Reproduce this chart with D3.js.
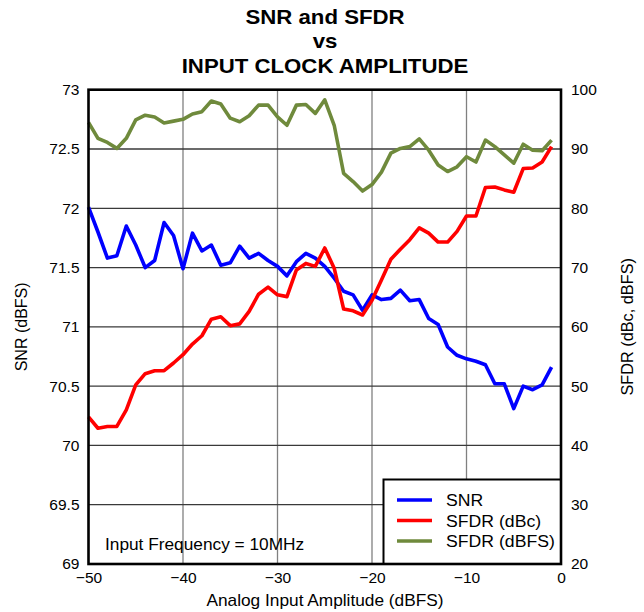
<!DOCTYPE html>
<html>
<head>
<meta charset="utf-8">
<script src="https://cdn.jsdelivr.net/npm/d3@7"></script>
<style>
  html, body { margin: 0; padding: 0; background: #fff; }
  svg { display: block; font-family: "Liberation Sans", Arial, sans-serif; }
</style>
</head>
<body>
<svg id="chart" width="644" height="612"></svg>
<script>
// Input clock amplitude sweep, dBFS
const amplitude = d3.range(-50, 0); // -50 .. -1 in 1 dB steps

// SNR (dBFS), left axis
const snr = [
  72.01, 71.80, 71.58, 71.60, 71.85, 71.69, 71.50, 71.56, 71.88, 71.77,
  71.49, 71.79, 71.64, 71.69, 71.52, 71.54, 71.68, 71.58, 71.62, 71.56,
  71.51, 71.43, 71.55, 71.62, 71.58, 71.51, 71.41, 71.30, 71.27, 71.14,
  71.27, 71.23, 71.24, 71.31, 71.22, 71.23, 71.07, 71.02, 70.83, 70.76,
  70.73, 70.71, 70.68, 70.52, 70.52, 70.31, 70.50, 70.47, 70.51, 70.66
];

// SFDR (dBc), right axis
const sfdrDbc = [
  44.8, 42.9, 43.2, 43.2, 46.0, 50.2, 52.1, 52.6, 52.6, 53.9,
  55.3, 57.1, 58.5, 61.3, 61.7, 60.2, 60.5, 62.6, 65.5, 66.7,
  65.4, 65.1, 69.6, 70.7, 70.2, 73.3, 69.9, 63.0, 62.7, 62.0,
  64.5, 67.9, 71.4, 73.1, 74.7, 76.7, 75.8, 74.3, 74.3, 76.1,
  78.7, 78.7, 83.5, 83.6, 83.1, 82.7, 86.7, 86.8, 87.8, 90.4
];

// SFDR (dBFS), right axis
const sfdrDbfs = [
  94.5, 91.8, 91.1, 90.1, 91.8, 94.9, 95.7, 95.4, 94.4, 94.7,
  95.0, 95.9, 96.3, 98.1, 97.6, 95.2, 94.6, 95.6, 97.4, 97.4,
  95.4, 94.0, 97.4, 97.5, 96.0, 98.3, 94.0, 85.9, 84.5, 82.9,
  84.0, 86.1, 89.3, 90.1, 90.4, 91.7, 89.8, 87.3, 86.2, 87.0,
  88.7, 87.8, 91.5, 90.4, 89.0, 87.6, 90.8, 89.8, 89.7, 91.5
];

const xTicks = [-50, -40, -30, -20, -10, 0];
const snrTicks = [69, 69.5, 70, 70.5, 71, 71.5, 72, 72.5, 73];
const sfdrTicks = [20, 30, 40, 50, 60, 70, 80, 90, 100];

const titleLines = ["SNR and SFDR", "vs", "INPUT CLOCK AMPLITUDE"];
const seriesNames = ["SNR", "SFDR (dBc)", "SFDR (dBFS)"];
const seriesColors = ["#0000ff", "#ff0000", "#6f8a3c"];

const svg = d3.select("#chart");
const L = 88.5, R = 561, T = 89.7, B = 564;

const x = d3.scaleLinear().domain([-50, 0]).range([L, R]);
const yL = d3.scaleLinear().domain([69, 73]).range([B, T]);
const yR = d3.scaleLinear().domain([20, 100]).range([B, T]);

// Horizontal text with a slightly wide set, as in the original artwork
function wideText(parent, px, py, str, size, sx, anchor, weight) {
  return parent.append("g").attr("transform", `translate(${px},${py}) scale(${sx},1)`)
    .append("text").attr("text-anchor", anchor || "start")
    .attr("font-size", size).attr("font-weight", weight || "normal")
    .text(str);
}

// Title
const tg = svg.append("g");
titleLines.forEach((line, i) => wideText(tg, 325, 23.5 + i * 24.5, line, 19.5, 1.14, "middle", "bold"));

// Gridlines
svg.append("g").selectAll("line").data(xTicks.slice(1, -1)).join("line")
  .attr("x1", d => x(d)).attr("x2", d => x(d))
  .attr("y1", T).attr("y2", B)
  .attr("stroke", "#808080").attr("stroke-width", 1.3);
svg.append("g").selectAll("line").data(snrTicks.slice(1, -1)).join("line")
  .attr("x1", L).attr("x2", R)
  .attr("y1", d => yL(d)).attr("y2", d => yL(d))
  .attr("stroke", "#3a3a3a").attr("stroke-width", 1.3);

// Axes (labels only; the frame is drawn separately)
const axB = d3.axisBottom(x).tickValues(xTicks).tickSize(0).tickPadding(8)
  .tickFormat(d => d3.format("")(d).replace("-", "\u2212"));
const axL = d3.axisLeft(yL).tickValues(snrTicks).tickSize(0).tickPadding(9)
  .tickFormat(d => String(d));
const axR = d3.axisRight(yR).tickValues(sfdrTicks).tickSize(0).tickPadding(10)
  .tickFormat(d => String(d));

function styleAxis(g) {
  g.select(".domain").remove();
  g.selectAll("text").attr("font-size", 15.5).attr("fill", "#000")
    .attr("font-family", "\"Liberation Sans\", Arial, sans-serif");
}
svg.append("g").attr("transform", `translate(0,${B})`).call(axB).call(styleAxis);
svg.append("g").attr("transform", `translate(${L},0)`).call(axL).call(styleAxis);
svg.append("g").attr("transform", `translate(${R},0)`).call(axR).call(styleAxis);

// Axis titles
wideText(svg, 325, 606, "Analog Input Amplitude (dBFS)", 16, 1.08, "middle");
svg.append("text").attr("transform", `translate(27,${(T + B) / 2}) rotate(-90)`)
  .attr("text-anchor", "middle").attr("font-size", 16).text("SNR (dBFS)");
svg.append("text").attr("transform", `translate(633,${(T + B) / 2}) rotate(-90)`)
  .attr("text-anchor", "middle").attr("font-size", 16.3).text("SFDR (dBc, dBFS)");

// Series lines
const series = [
  { values: snr, y: yL },
  { values: sfdrDbc, y: yR },
  { values: sfdrDbfs, y: yR }
];
const plot = svg.append("g");
series.forEach((s, i) => {
  const line = d3.line().x((d, j) => x(amplitude[j])).y(d => s.y(d));
  plot.append("path").datum(s.values)
    .attr("d", line).attr("fill", "none")
    .attr("stroke", seriesColors[i]).attr("stroke-width", 3.6)
    .attr("stroke-linejoin", "round");
});

// Annotation
wideText(svg, 105, 549.5, "Input Frequency = 10MHz", 16, 1.08, "start");

// Legend
const lg = svg.append("g");
lg.append("rect").attr("x", 383.5).attr("y", 479.5).attr("width", R - 383.5).attr("height", B - 479.5)
  .attr("fill", "#fff").attr("stroke", "#000").attr("stroke-width", 2);
seriesNames.forEach((name, i) => {
  const yy = 500 + i * 20.5;
  lg.append("line").attr("x1", 397).attr("x2", 432).attr("y1", yy).attr("y2", yy)
    .attr("stroke", seriesColors[i]).attr("stroke-width", 3.6);
  wideText(lg, 446, yy + 6, name, 16.5, 1.07, "start");
});

// Plot frame
svg.append("rect").attr("x", L).attr("y", T).attr("width", R - L).attr("height", B - T)
  .attr("fill", "none").attr("stroke", "#000").attr("stroke-width", 2.6);
</script>
</body>
</html>
